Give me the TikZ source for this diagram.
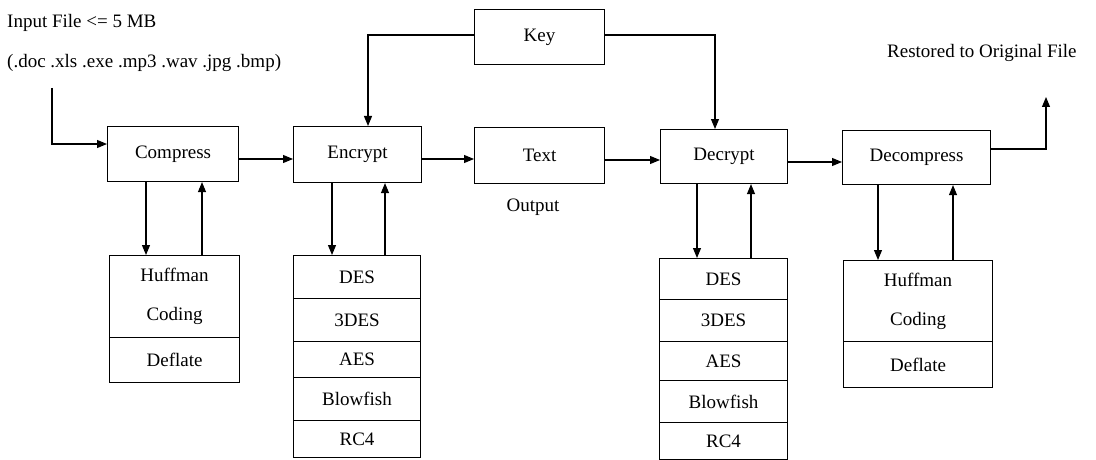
\documentclass[tikz,border=0pt]{standalone}
\usepackage{fontspec}
\setmainfont{Liberation Serif}
\usetikzlibrary{arrows.meta}
\begin{document}
\begin{tikzpicture}[x=1pt,y=-1pt,
  every node/.style={font=\fontsize{19}{22}\selectfont, inner sep=0pt},
  blk/.style={draw, line width=1.1pt, anchor=north west, minimum width=#1},
  conn/.style={line width=1.1pt},
  arr/.style={line width=1.1pt, -{Triangle[length=10pt,width=8pt]}},
  lbl/.style={anchor=west}
]
\useasboundingbox (0,0) rectangle (1096,460);
% main row
\node[blk=131pt, minimum height=55pt] (comp) at (107,126) {Compress};
\node[blk=128pt, minimum height=56pt] (enc) at (293,126) {Encrypt};
\node[blk=130pt, minimum height=56pt] (txt) at (474,127) {Text};
\node[blk=130pt, minimum height=55pt] (key) at (474,9) {Key};
\node[blk=127pt, minimum height=54pt] (dec) at (660,129) {Decrypt};
\node[blk=148pt, minimum height=54pt] (dcmp) at (842,130) {Decompress};
% labels
\node[lbl] (in1) at (7,23) {Input File <= 5 MB};
\node[lbl] (in2) at (7,63) {(.doc .xls .exe .mp3 .wav .jpg .bmp)};
\node[lbl] (rest) at (887,53) {Restored to Original File};
\node (out) at (533,207) {Output};
% lower stacks: compress
\node[blk=130pt, minimum height=82pt, align=center] (hufa) at (109,255) {Huffman\\[17pt]Coding};
\node[blk=130pt, minimum height=45pt] (hufb) at (109,337) {Deflate};
% encrypt
\node[blk=127pt, minimum height=43pt] (e1) at (293,255) {DES};
\node[blk=127pt, minimum height=43pt] (e2) at (293,298) {3DES};
\node[blk=127pt, minimum height=36pt] (e3) at (293,341) {AES};
\node[blk=127pt, minimum height=43pt] (e4) at (293,377) {Blowfish};
\node[blk=127pt, minimum height=37pt] (e5) at (293,420) {RC4};
% decrypt
\node[blk=128pt, minimum height=41pt] (d1) at (659,258) {DES};
\node[blk=128pt, minimum height=42pt] (d2) at (659,299) {3DES};
\node[blk=128pt, minimum height=39pt] (d3) at (659,341) {AES};
\node[blk=128pt, minimum height=42pt] (d4) at (659,380) {Blowfish};
\node[blk=128pt, minimum height=37pt] (d5) at (659,422) {RC4};
% decompress
\node[blk=149pt, minimum height=81pt, align=center] (hub) at (843,260) {Huffman\\[17pt]Coding};
\node[blk=149pt, minimum height=46pt] (hubb) at (843,341) {Deflate};
% coordinates
\coordinate (inS) at (52,88);
\coordinate (outE) at (1046,97);
% main flow
\draw[arr] (inS) |- (comp.west |- 0,144);
\draw[arr] (comp.east |- 0,159) -- (enc.west |- 0,159);
\draw[arr] (enc.east |- 0,159) -- (txt.west |- 0,159);
\draw[arr] (txt.east |- 0,160) -- (dec.west |- 0,160);
\draw[arr] (dec.east |- 0,162) -- (dcmp.west |- 0,162);
\draw[arr] (dcmp.east |- 0,149) -| (outE);
% key
\draw[arr] (key.west |- 0,35) -| (enc.north -| 368,0);
\draw[arr] (key.east |- 0,35) -| (dec.north -| 715,0);
% vertical arrows
\draw[arr] (comp.south -| 146,0) -- (hufa.north -| 146,0);
\draw[arr] (hufa.north -| 202,0) -- (comp.south -| 202,0);
\draw[arr] (enc.south -| 332,0) -- (e1.north -| 332,0);
\draw[arr] (e1.north -| 385,0) -- (enc.south -| 385,0);
\draw[arr] (dec.south -| 697,0) -- (d1.north -| 697,0);
\draw[arr] (d1.north -| 751,0) -- (dec.south -| 751,0);
\draw[arr] (dcmp.south -| 878,0) -- (hub.north -| 878,0);
\draw[arr] (hub.north -| 953,0) -- (dcmp.south -| 953,0);
\end{tikzpicture}
\end{document}
